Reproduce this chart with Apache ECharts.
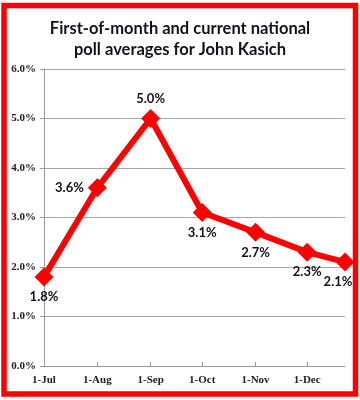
<!DOCTYPE html>
<html>
<head>
<meta charset="utf-8">
<style>
html,body{margin:0;padding:0;background:#fff;}
#chart{width:360px;height:400px;}
</style>
<script src="https://cdn.jsdelivr.net/npm/echarts@6/dist/echarts.min.js"></script>
</head>
<body>
<div id="chart"></div>
<script>
// Data
const dates = ['2015-07-01','2015-08-01','2015-09-01','2015-10-01','2015-11-01','2015-12-01','2015-12-23'];
const pollAvg = [1.8, 3.6, 5.0, 3.1, 2.7, 2.3, 2.1];
const xTickDates = ['2015-07-01','2015-08-01','2015-09-01','2015-10-01','2015-11-01','2015-12-01'];
const xTickLabels = ['1-Jul','1-Aug','1-Sep','1-Oct','1-Nov','1-Dec'];
const yTicks = [0, 1, 2, 3, 4, 5, 6];
const titleText = 'First-of-month and current national\npoll averages for John Kasich';

// Label styling (separate from data)
const labelPos = ['bottom','left','top','bottom','bottom','bottom','bottom'];
const labelOffset = [[0,0],[0,0],[0,0],[0,0],[0,0],[0,0],[-7,0]];

// convert dates to day numbers from the first date
const DAY = 86400000;
const t0 = Date.parse(dates[0] + 'T00:00:00Z');
const dayOf = s => Math.round((Date.parse(s + 'T00:00:00Z') - t0) / DAY);
const xDays = dates.map(dayOf);
const tickDays = xTickDates.map(dayOf);

const chart = echarts.init(document.getElementById('chart'), null, {renderer:'canvas'});
const seriesData = xDays.map((d, i) => ({
  value: [d, pollAvg[i]],
  label: { position: labelPos[i], offset: labelOffset[i] }
}));

const option = {
  animation: false,
  backgroundColor: '#fff',
  title: {
    text: titleText,
    left: 'center',
    top: 13,
    textStyle: {
      fontFamily: 'Lato',
      fontWeight: 'bold',
      fontSize: 16.5,
      lineHeight: 21,
      color: '#111122'
    }
  },
  grid: { left: 44, right: 15, top: 69, bottom: 34, containLabel: false },
  xAxis: {
    type: 'value',
    min: xDays[0],
    max: xDays[xDays.length - 1],
    axisLine: { show: true, onZero: false, lineStyle: { color: '#999', width: 1 } },
    axisTick: { show: true, inside: true, length: 4, lineStyle: { color: '#999' }, customValues: tickDays },
    axisLabel: {
      customValues: tickDays,
      margin: 9,
      fontFamily: 'Liberation Serif',
      fontWeight: 'bold',
      fontSize: 11,
      color: '#222',
      formatter: function (v) {
        const i = tickDays.indexOf(v);
        return i >= 0 ? xTickLabels[i] : '';
      }
    },
    splitLine: { show: false }
  },
  yAxis: {
    type: 'value',
    min: yTicks[0],
    max: yTicks[yTicks.length - 1],
    interval: 1,
    axisLine: { show: true, lineStyle: { color: '#999', width: 1 } },
    axisTick: { show: true, length: 4, lineStyle: { color: '#999' } },
    axisLabel: {
      margin: 8,
      fontFamily: 'Liberation Serif',
      fontWeight: 'bold',
      fontSize: 11,
      color: '#222',
      formatter: function (v) { return v.toFixed(1) + '%'; }
    },
    splitLine: { show: true, lineStyle: { color: '#a6a6a6', width: 1 } }
  },
  series: [{
    type: 'line',
    data: seriesData,
    symbol: 'diamond',
    symbolSize: 19,
    itemStyle: { color: '#ff0000' },
    lineStyle: { color: '#ff0000', width: 6 },
    label: {
      show: true,
      distance: 4,
      fontFamily: 'Lato',
      fontWeight: 'bold',
      fontSize: 13,
      color: '#111122',
      formatter: function (p) { return p.value[1].toFixed(1) + '%'; }
    },
    z: 3
  }],
  graphic: [{
    type: 'rect',
    shape: { x: 4, y: 5.5, width: 351.5, height: 388.5 },
    style: { fill: 'none', stroke: '#ff0000', lineWidth: 5.5 },
    z: 100
  }]
};
chart.setOption(option);
</script>
</body>
</html>
